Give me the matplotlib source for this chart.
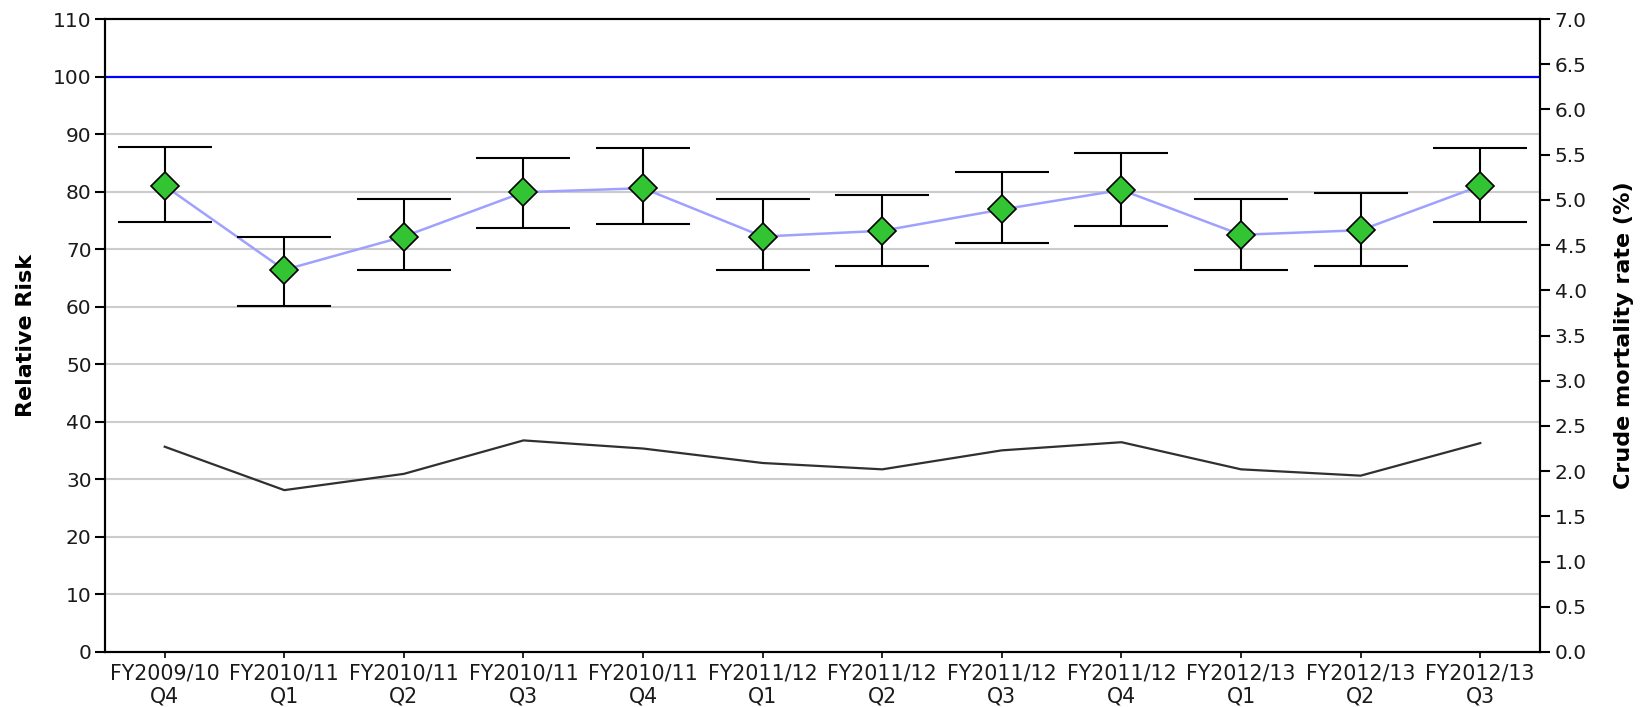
import numpy as np
import matplotlib.pyplot as plt
from matplotlib.ticker import MultipleLocator, FormatStrFormatter

# Quarterly relative risk with 95% limits, plus crude mortality (%)
quarters = ["FY2009/10\nQ4", "FY2010/11\nQ1", "FY2010/11\nQ2", "FY2010/11\nQ3",
            "FY2010/11\nQ4", "FY2011/12\nQ1", "FY2011/12\nQ2", "FY2011/12\nQ3",
            "FY2011/12\nQ4", "FY2012/13\nQ1", "FY2012/13\nQ2", "FY2012/13\nQ3"]
rel_risk = [81.0, 66.4, 72.2, 79.9, 80.6, 72.2, 73.2, 76.9, 80.3, 72.5, 73.3, 81.0]
rr_lower = [74.8, 60.2, 66.3, 73.7, 74.4, 66.3, 67.1, 71.0, 74.0, 66.4, 67.1, 74.8]
rr_upper = [87.8, 72.1, 78.7, 85.9, 87.5, 78.7, 79.5, 83.5, 86.8, 78.7, 79.8, 87.5]
crude_rate = [2.27, 1.79, 1.97, 2.34, 2.25, 2.09, 2.02, 2.23, 2.32, 2.02, 1.95, 2.31]
benchmark = 100

plt.rcParams['font.family'] = ['DejaVu Sans']

fig = plt.figure(figsize=(16.42, 7.07), dpi=100)
ax = fig.add_axes([0.0639, 0.0778, 0.9379 - 0.0639, 0.9731 - 0.0778])
ax2 = ax.twinx()

x = np.arange(len(quarters))
rr = np.array(rel_risk)
err = [rr - np.array(rr_lower), np.array(rr_upper) - rr]

# grey gridlines (left scale), benchmark line
for g in range(10, 100, 10):
    ax.axhline(g, color='#cccccc', lw=1.5, zorder=0)
ax.axhline(benchmark, color='#0000ff', lw=1.6, zorder=1)

ax.plot(x, rr, color='#a0a0ff', lw=1.8, zorder=2)
ax.errorbar(x, rr, yerr=err, fmt='none', ecolor='black', elinewidth=1.5,
            capsize=34, capthick=1.5, zorder=3)
ax.plot(x, rr, ls='none', marker='D', markersize=14, markerfacecolor='#33c433',
        markeredgecolor='black', markeredgewidth=1.2, zorder=4)

ax2.plot(x, crude_rate, color='#303030', lw=1.6, zorder=2)

ax.set_xlim(-0.5, len(quarters) - 0.5)
ax.set_ylim(0, 110)
ax.yaxis.set_major_locator(MultipleLocator(10))
ax2.set_ylim(0, 7.0)
ax2.yaxis.set_major_locator(MultipleLocator(0.5))
ax2.yaxis.set_major_formatter(FormatStrFormatter('%.1f'))

ax.set_xticks(x)
ax.set_xticklabels(quarters, fontsize=14.8, linespacing=1.2, color='#1a1a1a')

ax.tick_params(axis='y', length=7, width=1.5, labelsize=14.5,
               labelcolor='#1a1a1a', pad=2.5)
ax.tick_params(axis='x', length=4, width=1.2, pad=4)
ax2.tick_params(axis='y', length=7, width=1.5, labelsize=14.5,
                labelcolor='#1a1a1a', pad=3.5)

for a in (ax, ax2):
    for s in a.spines.values():
        s.set_linewidth(1.5)
        s.set_color('black')

ax.set_ylabel('Relative Risk', fontsize=16, fontweight='bold')
ax2.set_ylabel('Crude mortality rate (%)', fontsize=16, fontweight='bold')
ax.yaxis.set_label_coords(-0.048, 0.5)
ax2.yaxis.set_label_coords(1.0516, 0.5)

fig.savefig('out.png', dpi=100)
